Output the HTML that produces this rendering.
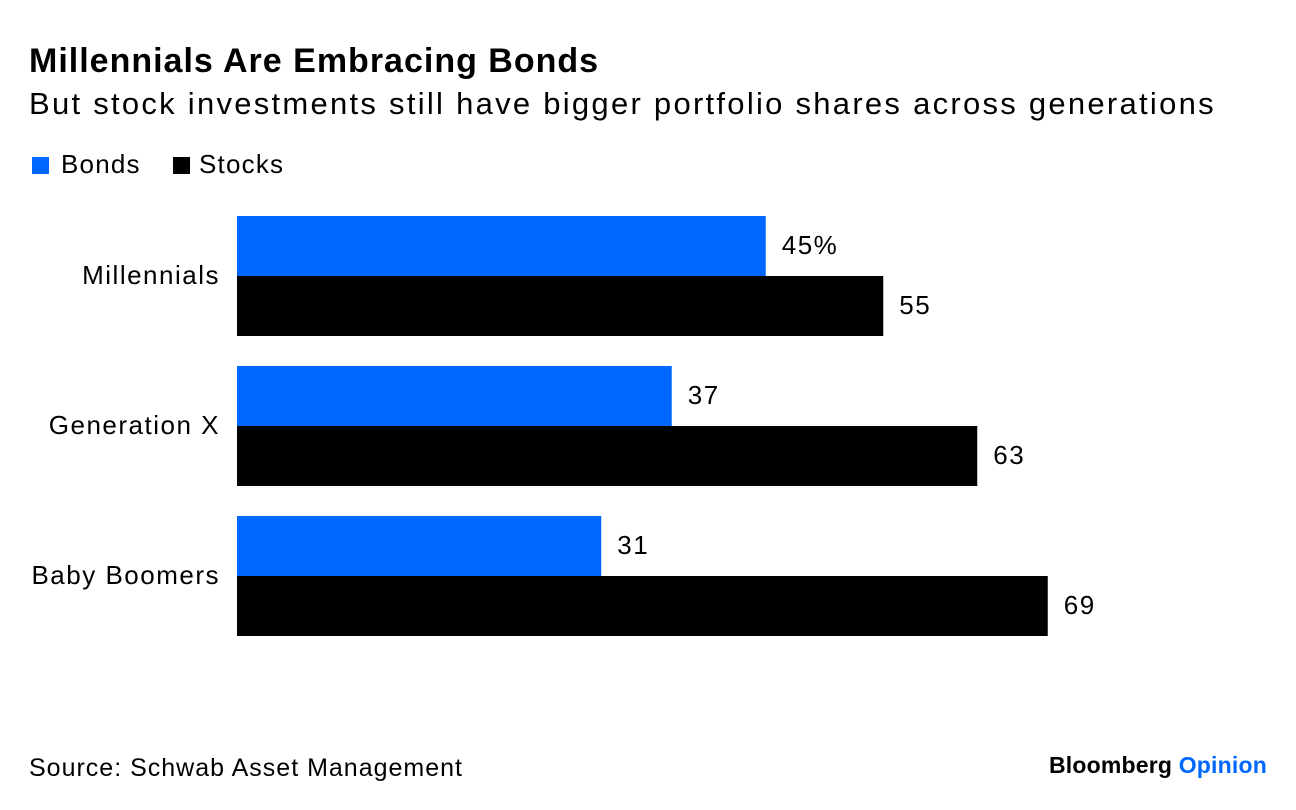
<!DOCTYPE html>
<html><head><meta charset="utf-8"><style>
body{margin:0;width:1296px;height:810px;background:#fff;font-family:"Liberation Sans",Arial,sans-serif;color:#000;position:relative;overflow:hidden}
.abs{position:absolute;white-space:nowrap}
</style></head><body>
<div class="abs" style="left:29px;top:42px;font-size:34px;font-weight:bold;letter-spacing:1px">Millennials Are Embracing Bonds</div>
<div class="abs" style="left:29px;top:86px;font-size:31px;letter-spacing:2.27px">But stock investments still have bigger portfolio shares across generations</div>
<div class="abs" style="left:32px;top:149px;font-size:26px;letter-spacing:1.2px"><span style="display:inline-block;width:17px;height:17px;background:#0068ff;margin-right:12px;vertical-align:-1px"></span>Bonds</div>
<div class="abs" style="left:173px;top:149px;font-size:26px;letter-spacing:1.2px"><span style="display:inline-block;width:17px;height:17px;background:#000;margin-right:9px;vertical-align:-1px"></span>Stocks</div>
<svg id="chart" width="1296" height="810" style="position:absolute;left:0;top:0"></svg>
<div class="abs" style="left:29px;top:754px;font-size:25px;letter-spacing:1px">Source: Schwab Asset Management</div>
<div class="abs" style="right:29px;top:752px;font-size:23px;font-weight:bold;letter-spacing:0.2px">Bloomberg <span style="color:#0068ff">Opinion</span></div>
<script>
const categories=["Millennials","Generation X","Baby Boomers"];
const bonds=[45,37,31];
const stocks=[55,63,69];
const NS="http://www.w3.org/2000/svg";
const svg=document.getElementById('chart');
const x0=237,k=11.75;
const xs=v=>x0+v*k;
const groupTop=i=>216+i*150;
function mk(t,a){const e=document.createElementNS(NS,t);for(const n in a)e.setAttribute(n,a[n]);svg.appendChild(e);return e;}
categories.forEach((c,i)=>{
 const y=groupTop(i);
 const lab=mk('text',{x:220,y:y+68,'text-anchor':'end','font-size':26,'letter-spacing':1.5,'font-family':'Liberation Sans, Arial, sans-serif'});
 lab.textContent=c;
 
 
 const b=mk('rect',{x:x0,y:y,width:xs(bonds[i])-x0,height:60,fill:'#0068ff'});
 
 
 const s=mk('rect',{x:x0,y:y+60,width:xs(stocks[i])-x0,height:60,fill:'#000'});
 
 
 const bl=mk('text',{x:xs(bonds[i])+16,y:y+38,'font-size':26,'letter-spacing':1.5,'font-family':'Liberation Sans, Arial, sans-serif'});
 bl.textContent=bonds[i]+(i===0?'%':'');
 
 
 const sl=mk('text',{x:xs(stocks[i])+16,y:y+98,'font-size':26,'letter-spacing':1.5,'font-family':'Liberation Sans, Arial, sans-serif'});
 sl.textContent=stocks[i];
 
 
});
</script>
</body></html>
